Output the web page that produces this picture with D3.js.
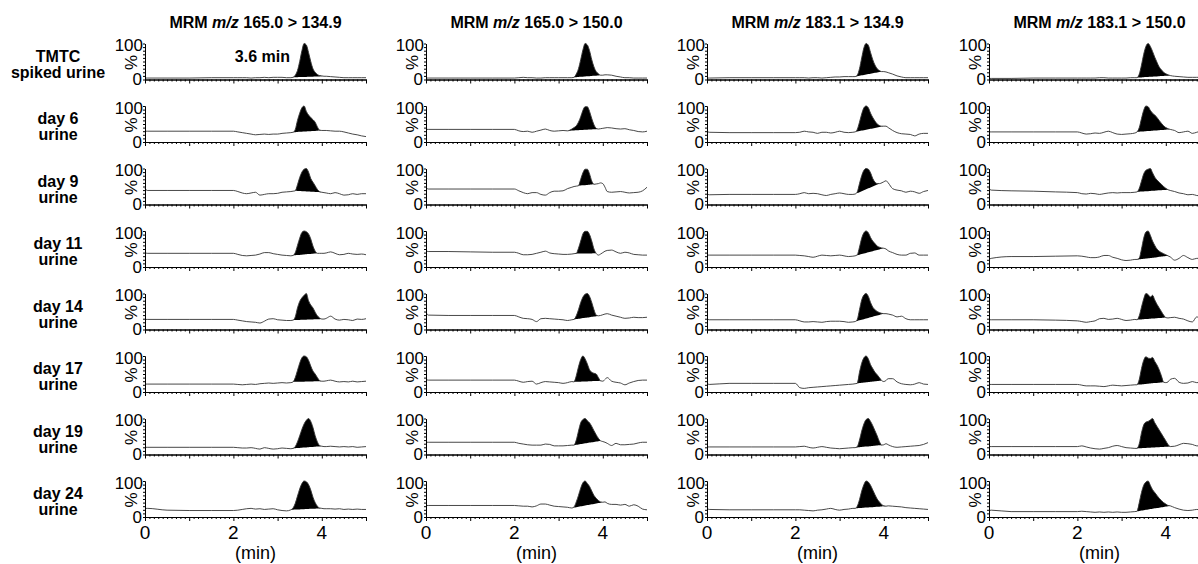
<!DOCTYPE html>
<html>
<head>
<meta charset="utf-8">
<script src="https://cdn.jsdelivr.net/npm/d3@7"></script>
<style>
  body { margin: 0; background: #fff; }
  svg { display: block; font-family: Arial, "Liberation Sans", sans-serif; }
</style>
</head>
<body>
<svg id="chart" width="1198" height="564"></svg>
<script>
// retention time grid (min), denser around the peak
const times = [0, 0.05, 0.5, 1, 1.5, 2, 2.1, 2.2, 2.3, 2.4, 2.5, 2.6, 2.7, 2.8, 2.9, 3, 3.1, 3.2, 3.3,
  3.35, 3.4, 3.45, 3.5, 3.55, 3.6, 3.65, 3.7, 3.75, 3.8, 3.85, 3.9, 3.95, 4, 4.05, 4.1,
  4.2, 4.3, 4.4, 4.5, 4.6, 4.7, 4.8, 4.9, 5];

const rowLabels = [
  ["TMTC", "spiked urine"], ["day 6", "urine"], ["day 9", "urine"], ["day 11", "urine"],
  ["day 14", "urine"], ["day 17", "urine"], ["day 19", "urine"], ["day 24", "urine"]
];
const transitions = [["165.0", "134.9"], ["165.0", "150.0"], ["183.1", "134.9"], ["183.1", "150.0"]];
const xTickLabels = [0, 2, 4];

// relative intensity (%) for each sample, one array per MRM transition
const mrm165_135 = [
  [4,4,4,4,5,5, 5,5,5,4,5,5,6,5,6,6,6,5,5, 6,12,25,50,80,100,96,75,50,30,20,14,11,10,9,9, 8,7,6,5,5,5,5,5,5],
  [30,30,30,30,30,30, 28,26,24,22,20,21,22,21,22,22,24,25,26, 27,35,60,80,95,100,85,75,68,62,55,42,33,32,32,32, 31,30,30,28,25,22,20,17,15],
  [45,39,39,39,39,39, 36,32,30,32,34,26,28,30,30,31,34,35,36, 37,38,55,75,90,98,100,90,72,62,52,42,36,34,33,32, 30,33,30,26,27,30,28,30,30],
  [40,38,38,38,38,38, 35,32,31,32,33,36,40,40,37,35,33,32,31, 32,40,60,80,96,100,98,92,78,58,44,38,38,38,38,39, 42,38,34,35,38,36,35,36,34],
  [28,28,28,28,28,28, 26,24,22,21,20,18,23,29,30,27,26,25,25, 26,35,60,78,88,95,100,80,68,60,48,38,32,29,29,31, 37,29,26,28,27,25,29,28,30],
  [22,22,22,22,22,22, 21,20,21,22,21,23,24,25,24,25,26,25,26, 28,40,60,80,95,100,98,88,72,58,50,40,32,30,30,31, 33,30,28,29,28,30,28,29,30],
  [20,20,20,20,20,20, 19,18,18,19,17,15,19,17,15,16,18,17,16, 17,22,35,52,70,85,95,100,92,75,52,35,25,23,22,22, 23,22,21,22,21,22,20,21,22],
  [24,24,19,18,18,18, 19,21,23,24,22,23,21,22,23,20,18,17,20, 25,38,58,78,93,100,98,90,75,55,40,30,25,24,23,23, 23,22,23,21,22,21,22,21,21]
];
const mrm165_150 = [
  [4,4,4,4,4,4, 5,6,5,5,4,4,5,5,5,5,5,5,5, 6,15,30,55,82,100,96,80,55,35,22,16,12,12,13,13, 12,9,7,5,5,4,4,4,4],
  [35,35,35,35,35,35, 31,29,30,27,30,33,36,32,30,31,32,31,36, 40,45,55,70,88,98,98,85,65,48,38,36,37,38,39,40, 39,37,36,37,34,32,29,28,30],
  [48,43,43,43,43,43, 38,33,30,33,33,28,26,33,37,37,38,44,48, 50,51,52,70,88,98,98,85,65,56,57,58,60,58,48,36, 34,35,36,34,32,33,34,38,48],
  [45,43,43,42,41,41, 38,34,34,35,38,41,44,39,37,36,35,35,36, 37,38,52,72,92,99,99,90,72,50,38,33,36,40,44,46, 47,42,38,41,39,35,34,33,33],
  [48,40,39,39,39,39, 35,31,30,28,22,30,31,30,29,28,27,25,27, 28,38,55,75,90,98,100,92,75,55,40,38,39,41,43,44, 40,37,34,31,32,34,33,33,34],
  [35,33,33,33,33,33, 30,27,29,30,22,26,29,28,27,26,24,26,29, 28,45,70,90,100,92,78,62,55,52,50,40,31,30,35,40, 30,27,25,20,25,29,32,33,33],
  [34,34,34,34,34,34, 31,29,27,26,26,26,29,28,24,24,24,25,26, 26,40,65,88,97,100,94,88,78,66,55,45,38,36,34,31, 25,31,27,27,28,29,32,34,34],
  [32,32,32,32,32,32, 31,30,30,28,31,36,36,33,30,29,28,27,25, 28,42,60,80,95,100,93,85,72,60,52,46,42,41,42,38, 35,35,33,35,30,34,30,22,20]
];
const mrm183_135 = [
  [4,4,5,5,5,5, 5,5,4,5,5,4,5,6,7,7,8,8,8, 8,12,30,60,88,100,95,75,55,40,30,25,22,22,21,19, 15,10,7,5,5,5,5,5,5],
  [30,27,26,26,26,26, 27,30,28,27,24,27,27,25,27,30,27,26,27, 28,35,55,78,95,100,95,80,68,58,50,46,44,44,44,40, 32,26,23,22,21,17,22,24,24],
  [30,27,28,28,28,28, 30,33,30,31,30,27,25,28,30,32,30,28,28, 29,35,58,80,95,100,98,88,72,62,58,58,60,63,66,60, 44,40,38,34,37,35,31,36,39],
  [33,33,33,33,33,33, 32,31,29,27,30,33,32,31,32,33,31,29,30, 31,34,55,80,95,100,95,82,72,65,58,55,53,52,50,45, 40,35,33,33,38,39,33,33,33],
  [30,27,27,27,27,27, 24,21,21,22,21,20,22,23,23,23,22,20,21, 22,28,55,82,96,100,92,75,62,55,50,47,45,44,44,43, 40,35,37,30,27,27,27,27,27],
  [24,21,24,24,24,24, 12,10,12,13,14,15,16,17,18,19,20,21,22, 23,24,55,80,95,100,92,76,65,55,48,40,32,29,32,37, 37,28,23,21,20,22,26,22,21],
  [21,21,21,21,21,21, 22,23,20,18,20,22,20,18,17,16,17,18,19, 19,22,40,65,85,97,100,92,80,66,52,36,26,27,30,27, 22,20,21,22,23,24,25,28,33],
  [24,21,20,20,20,20, 20,19,18,17,19,20,22,24,21,19,21,22,24, 24,30,48,72,90,100,97,88,75,62,50,42,35,31,30,31, 30,29,28,26,25,24,23,22,21]
];
const mrm183_150 = [
  [3,3,3,4,4,4, 4,4,4,4,5,5,4,4,4,4,4,5,5, 5,15,40,70,92,100,92,78,62,48,35,27,20,16,13,11, 9,8,7,6,6,6,6,6,6],
  [28,28,28,28,28,28, 25,22,23,25,24,27,30,26,22,21,22,23,25, 28,40,65,88,100,98,88,80,75,68,60,52,45,40,37,35, 32,26,28,30,24,27,30,26,28],
  [45,40,38,37,35,33, 30,29,31,30,28,30,32,33,32,33,33,33,34, 35,45,65,85,95,98,100,88,76,68,62,56,50,45,41,39, 36,32,30,27,28,25,24,22,28],
  [21,24,29,29,30,31, 30,28,26,26,28,32,32,27,24,20,18,19,21, 21,25,50,80,97,100,88,72,60,50,44,40,37,34,31,28, 19,24,32,26,21,24,24,22,23],
  [27,27,27,27,26,24, 22,20,22,24,30,31,28,29,31,28,25,26,28, 27,38,62,85,100,97,90,95,82,70,60,50,40,33,32,33, 34,31,29,24,21,35,30,29,30],
  [21,21,21,21,21,21, 19,17,17,17,16,15,17,19,18,17,18,19,20, 20,35,65,88,98,94,93,96,85,75,62,45,27,26,28,35, 38,27,24,25,29,26,27,30,30],
  [22,22,22,22,22,22, 24,21,18,16,15,17,19,23,25,22,19,18,17, 17,30,60,82,90,92,96,100,88,78,68,58,48,38,28,22, 23,27,31,30,28,24,24,23,23],
  [18,19,15,15,15,15, 16,15,14,13,14,13,14,13,14,13,13,14,15, 16,40,68,88,97,100,88,76,68,60,52,46,40,36,32,31, 26,22,19,18,19,21,20,20,20]
];

// integration window [start, end] (min) of the shaded peak
const peaks165_135 = [[3.35,4.05],[3.35,4],[3.4,4],[3.35,3.9],[3.35,4],[3.35,4],[3.35,4],[3.3,4]];
const peaks165_150 = [[3.35,4],[3.2,3.9],[3.45,3.8],[3.35,3.85],[3.35,3.9],[3.35,3.95],[3.35,3.95],[3.3,4]];
const peaks183_135 = [[3.35,3.95],[3.35,4],[3.35,4.05],[3.35,4],[3.35,4],[3.4,3.95],[3.35,3.95],[3.35,4.05]];
const peaks183_150 = [[3.35,4.1],[3.35,4.1],[3.35,4.05],[3.35,4.05],[3.35,4],[3.35,3.95],[3.35,4.1],[3.35,4.1]];

const columns = [
  { series: mrm165_135, peaks: peaks165_135 },
  { series: mrm165_150, peaks: peaks165_150 },
  { series: mrm183_135, peaks: peaks183_135 },
  { series: mrm183_150, peaks: peaks183_150 }
];

// layout
const colX0 = [145, 426, 707, 989];
const colW = 221;
const rowTop = 79.5;
const rowStep = 62.5;
const panelH = 36;

const svg = d3.select("#chart");

columns.forEach((col, c) => {
  const x = d3.scaleLinear().domain([0, 5]).range([colX0[c], colX0[c] + colW]);

  // column title
  const title = svg.append("text")
    .attr("x", colX0[c] + colW / 2)
    .attr("y", 28)
    .attr("text-anchor", "middle")
    .style("font-size", "16px")
    .style("font-weight", "bold");
  title.append("tspan").text("MRM ");
  title.append("tspan").style("font-style", "italic").text("m/z");
  title.append("tspan").text(" " + transitions[c][0] + " > " + transitions[c][1]);

  col.series.forEach((vals, r) => {
    const y0 = rowTop + r * rowStep;
    const y = d3.scaleLinear().domain([0, 100]).range([y0, y0 - panelH]);
    const pts = times.map((t, i) => ({ t: t, v: vals[i] }));

    // shaded peak between trace and integration baseline
    const [ts, te] = col.peaks[r];
    const i0 = times.indexOf(ts), i1 = times.indexOf(te);
    const v0 = vals[i0], v1 = vals[i1];
    const base = d3.scaleLinear().domain([ts, te]).range([v0, v1]);
    const area = d3.area()
      .curve(d3.curveMonotoneX)
      .x((d) => x(d.t))
      .y0((d) => y(base(d.t)))
      .y1((d) => y(d.v));
    svg.append("path")
      .datum(pts.slice(i0, i1 + 1))
      .attr("d", area)
      .attr("fill", "#000");

    const line = d3.line()
      .curve(d3.curveMonotoneX)
      .x((d) => x(d.t))
      .y((d) => y(d.v));
    svg.append("path")
      .datum(pts)
      .attr("d", line)
      .attr("fill", "none")
      .attr("stroke", "#333")
      .attr("stroke-width", 0.9);

    // x axis: minor ticks every 0.1 min, longer every 1 min
    const xAxis = svg.append("g")
      .attr("transform", `translate(0, ${y0})`)
      .call(d3.axisBottom(x).tickValues(d3.range(0, 50.5, 1).map((d) => d / 10))
        .tickSize(2).tickSizeOuter(0).tickFormat(""));
    xAxis.selectAll(".tick line")
      .attr("y2", (d) => (Math.abs(d - Math.round(d)) < 1e-6 ? 4 : 2));
    svg.append("g")
      .attr("transform", `translate(0, ${y0})`)
      .call(d3.axisBottom(x).tickValues([]).tickSizeOuter(0));

    // y axis
    svg.append("g")
      .attr("transform", `translate(${colX0[c]}, 0)`)
      .call(d3.axisLeft(y).tickValues(d3.range(0, 101, 10)).tickSize(2).tickSizeOuter(0).tickFormat(""));
    svg.append("g")
      .attr("transform", `translate(${colX0[c]}, 0)`)
      .call(d3.axisLeft(y).tickValues([]).tickSizeOuter(0));

    svg.append("text")
      .attr("x", colX0[c] - 2).attr("y", y(100) + 7.5)
      .attr("text-anchor", "end")
      .style("font-size", "17px")
      .text("100");
    svg.append("text")
      .attr("x", colX0[c] - 3).attr("y", y0 + 5.5)
      .attr("text-anchor", "end")
      .style("font-size", "17px")
      .text("0");
    svg.append("text")
      .attr("transform", `translate(${colX0[c] - 8}, ${y0 - 17}) rotate(-90)`)
      .attr("text-anchor", "middle")
      .style("font-size", "17px")
      .text("%");

    // bottom row: tick labels and unit
    if (r === col.series.length - 1) {
      xTickLabels.forEach((t) => {
        svg.append("text")
          .attr("x", x(t)).attr("y", y0 + 21.5)
          .attr("text-anchor", "middle")
          .style("font-size", "19px")
          .text(t);
      });
      svg.append("text")
        .attr("x", colX0[c] + colW / 2).attr("y", y0 + 42)
        .attr("text-anchor", "middle")
        .style("font-size", "18px")
        .text("(min)");
    }

    if (r === 0 && c === 0) {
      svg.append("text")
        .attr("x", x(3.28)).attr("y", y0 - 17.5)
        .attr("text-anchor", "end")
        .style("font-size", "16px")
        .style("font-weight", "bold")
        .text("3.6 min");
    }
  });
});

// row labels
rowLabels.forEach((lines, r) => {
  const y0 = rowTop + r * rowStep;
  lines.forEach((s, k) => {
    svg.append("text")
      .attr("x", 58)
      .attr("y", y0 - 18 + k * 16)
      .attr("text-anchor", "middle")
      .style("font-size", "16px")
      .style("font-weight", "bold")
      .text(s);
  });
});
</script>
</body>
</html>
